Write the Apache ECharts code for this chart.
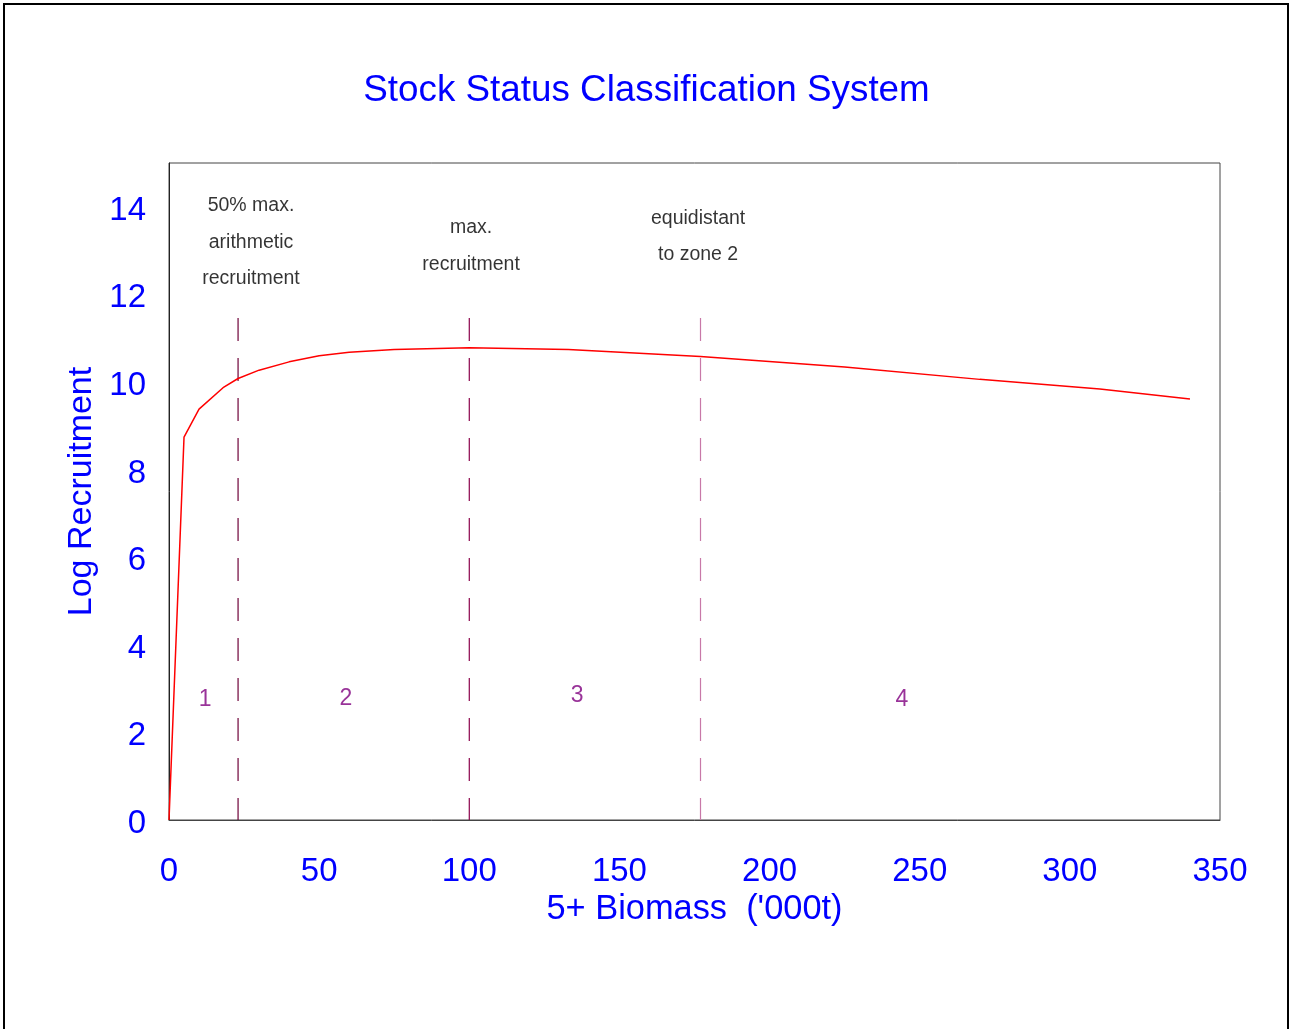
<!DOCTYPE html>
<html>
<head>
<meta charset="utf-8">
<script src="https://cdn.jsdelivr.net/npm/echarts@6/dist/echarts.min.js"></script>
<style>
html,body{margin:0;padding:0;background:#fff;}
#chart{width:1293px;height:1029px;}
</style>
</head>
<body>
<div id="chart"></div>
<script>
// ---- data ----
var biomass     = [0, 5, 10, 18, 23, 30, 40, 50, 60, 75, 100, 133, 177, 225, 270, 310, 340];
var logRecruit  = [0, 8.74, 9.38, 9.87, 10.08, 10.27, 10.46, 10.6, 10.68, 10.74, 10.78, 10.74, 10.58, 10.34, 10.06, 9.84, 9.61];
var refLineX    = [23, 100, 177];
var refLineTop  = 11.46;
var refLineColors = ['#6e0038', '#8b004a', '#c878a8'];
var refNotes    = ['50% max.\narithmetic\nrecruitment', 'max.\nrecruitment', 'equidistant\nto zone 2'];
var refNoteX    = [27.3, 100.6, 176.2];
var refNoteY    = [13.19, 13.1, 13.32];
var zoneLabels  = ['1', '2', '3', '4'];
var zoneX       = [12, 58.9, 135.9, 244.1];
var zoneY       = [2.74, 2.78, 2.83, 2.74];
var xTicks      = [0, 50, 100, 150, 200, 250, 300, 350];
var yTicks      = [0, 2, 4, 6, 8, 10, 12, 14];

var chart = echarts.init(document.getElementById('chart'));
var FONT = 'Liberation Sans, Arial, sans-serif';

var series = [];
series.push({
  type: 'line',
  data: biomass.map(function (x, i) { return [x, logRecruit[i]]; }),
  showSymbol: false,
  symbol: 'none',
  lineStyle: { color: '#ff0000', width: 1.5 },
  z: 5,
  animation: false
});
refLineX.forEach(function (x, i) {
  series.push({
    type: 'line',
    data: [[x, refLineTop], [x, 0]],
    symbol: 'none',
    lineStyle: { color: refLineColors[i], width: 1.2, type: [23, 17] },
    z: 3,
    animation: false
  });
});
series.push({
  type: 'scatter',
  symbolSize: 0,
  data: refNoteX.map(function (x, i) { return { value: [x, refNoteY[i]], name: refNotes[i] }; }),
  label: {
    show: true, position: 'inside', formatter: function (p) { return p.name; },
    color: '#000', fontFamily: FONT, fontSize: 19.5, lineHeight: 36.5, align: 'center', verticalAlign: 'middle'
  },
  silent: true,
  animation: false
});
series.push({
  type: 'scatter',
  symbolSize: 0,
  data: zoneX.map(function (x, i) { return { value: [x, zoneY[i]], name: zoneLabels[i] }; }),
  label: {
    show: true, position: 'inside', formatter: function (p) { return p.name; },
    color: '#800080', fontFamily: FONT, fontSize: 23, align: 'center', verticalAlign: 'middle'
  },
  silent: true,
  animation: false
});

chart.setOption({
  backgroundColor: '#fff',
  animation: false,
  title: {
    text: 'Stock Status Classification System',
    left: 'center',
    top: 67,
    textStyle: { color: '#0000ff', fontFamily: FONT, fontSize: 36.8, fontWeight: 'normal' }
  },
  grid: {
    left: 169, top: 163, right: 73, bottom: 209,
    show: true, borderColor: '#444', borderWidth: 1, backgroundColor: 'transparent'
  },
  xAxis: {
    type: 'value', min: 0, max: 350, interval: 50,
    name: "5+ Biomass  ('000t)", nameLocation: 'middle', nameGap: 70,
    nameTextStyle: { color: '#0000ff', fontFamily: FONT, fontSize: 34.4 },
    axisLine: { show: true, lineStyle: { color: '#444', width: 1 } },
    axisTick: { show: false },
    splitLine: { show: false },
    axisLabel: {
      color: '#0000ff', fontFamily: FONT, fontSize: 33, margin: 35,
      formatter: function (v) { return xTicks.indexOf(v) >= 0 ? String(v) : ''; }
    }
  },
  yAxis: {
    type: 'value', min: 0, max: 15, interval: 2,
    name: 'Log Recruitment', nameLocation: 'middle', nameGap: 70, nameRotate: 90,
    nameTextStyle: { color: '#0000ff', fontFamily: FONT, fontSize: 34 },
    axisLine: { show: true, lineStyle: { color: '#222', width: 1 } },
    axisTick: { show: false },
    splitLine: { show: false },
    axisLabel: {
      color: '#0000ff', fontFamily: FONT, fontSize: 33, margin: 23,
      formatter: function (v) { return yTicks.indexOf(v) >= 0 ? '{a|' + v + '}' : ''; },
      rich: { a: { color: '#0000ff', fontFamily: FONT, fontSize: 33, padding: [8, 0, 0, 0] } }
    }
  },
  graphic: [{
    type: 'rect',
    shape: { x: 4, y: 4, width: 1284, height: 1100 },
    style: { fill: 'none', stroke: '#000', lineWidth: 2 },
    silent: true
  }],
  series: series
});
</script>
</body>
</html>
